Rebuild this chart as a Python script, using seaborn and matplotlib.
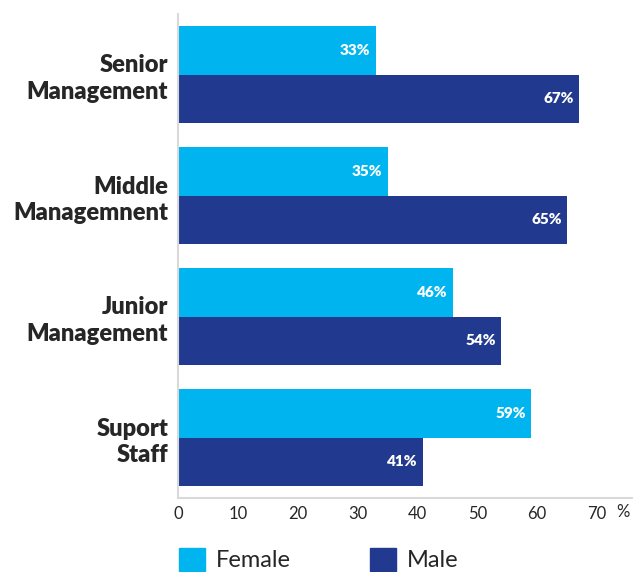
import pandas as pd
import matplotlib.pyplot as plt
import seaborn as sns

sns.set_style("white")
plt.rcParams['font.family'] = ['Lato', 'DejaVu Sans']

# data
levels = ['Senior\nManagement', 'Middle\nManagemnent', 'Junior\nManagement', 'Suport\nStaff']
female = [33, 35, 46, 59]
male = [67, 65, 54, 41]
xticks = [0, 10, 20, 30, 40, 50, 60, 70]

df = pd.DataFrame({'level': levels * 2,
                   'share': female + male,
                   'gender': ['Female'] * 4 + ['Male'] * 4})

fig = plt.figure(figsize=(6.33, 5.72), dpi=100)
ax = fig.add_axes([178 / 633, 1 - 498 / 572, 1 - 178 / 633, (498 - 14) / 572])

sns.barplot(data=df, y='level', x='share', hue='gender', orient='h',
            palette=['#00B5EF', '#213A8F'], width=0.8, saturation=1,
            errorbar=None, ax=ax, legend=False, linewidth=0)

for cont in ax.containers:
    labels = ax.bar_label(cont, fmt='%d%%', padding=-4, color='white',
                          fontsize=11, fontweight='heavy')
    for t in labels:
        t.set_ha('right')

ax.set_xlim(0, 76)
ax.set_xticks(xticks)
ax.set_xlabel('')
ax.set_ylabel('')
ax.tick_params(axis='x', labelsize=12, length=0, pad=6)
ax.tick_params(axis='y', labelsize=17, length=0, pad=7)
for lab in ax.get_yticklabels():
    lab.set_fontweight('heavy')
    lab.set_linespacing(1.25)
ax.text(74.3, -6 / 484, '%', transform=ax.get_xaxis_transform(), fontsize=12,
        ha='center', va='top')

sns.despine(ax=ax, top=True, right=True)
for s in ['left', 'bottom']:
    ax.spines[s].set_color('#D9D9D9')
    ax.spines[s].set_linewidth(1.5)

handles = [plt.Rectangle((0, 0), 1, 1, color='#00B5EF'),
           plt.Rectangle((0, 0), 1, 1, color='#213A8F')]
fig.legend(handles, ['Female', 'Male'], loc='lower left',
           bbox_to_anchor=(158 / 633, -0.036), ncol=2, frameon=False,
           fontsize=17, handlelength=1.1, handleheight=1.1,
           handletextpad=0.45, columnspacing=3.35)

fig.savefig('out.png', dpi=100)
